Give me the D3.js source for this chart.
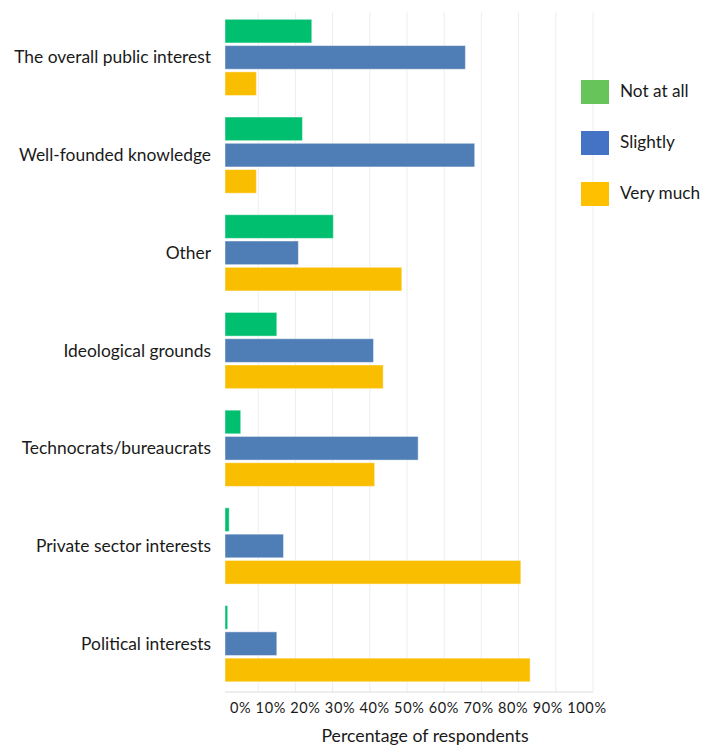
<!DOCTYPE html>
<html>
<head>
<meta charset="utf-8">
<script src="https://cdn.jsdelivr.net/npm/d3@7"></script>
<style>
  html, body { margin: 0; padding: 0; background: #fff; }
  svg { display: block; font-family: Lato, "Open Sans", sans-serif; }
</style>
</head>
<body>
<svg id="chart" width="702" height="747"></svg>
<script>
// Reasons influencing decisions, share of respondents per answer
const categories = [
  "The overall public interest",
  "Well-founded knowledge",
  "Other",
  "Ideological grounds",
  "Technocrats/bureaucrats",
  "Private sector interests",
  "Political interests"
];
const seriesNames = ["Not at all", "Slightly", "Very much"];
const notAtAll  = [24.4, 21.9, 30.2, 15.0,  5.3,  2.2,  1.8];
const slightly  = [65.7, 68.2, 20.8, 41.0, 53.0, 16.8, 15.0];
const veryMuch  = [ 9.5,  9.5, 48.6, 43.6, 41.3, 80.6, 83.1];
const tickValues = [0, 10, 20, 30, 40, 50, 60, 70, 80, 90, 100];
const tickLabels = tickValues.map(v => v + "%");
const axisTitle = "Percentage of respondents";

const barColors    = ["#00BF6F", "#4F7DB5", "#F9BE00"];
const legendColors = ["#66C45A", "#4472C4", "#FFC000"];

const seriesValues = [notAtAll, slightly, veryMuch];
const rows = categories.map((c, i) => ({
  category: c,
  values: seriesNames.map((s, j) => ({ series: s, idx: j, value: seriesValues[j][i] }))
}));

const svg = d3.select("#chart");

const plot = { left: 225, right: 593, top: 12.5, bottom: 692 };

// value scale: gridlines every 10% up to the right border
const x = d3.scaleLinear().domain([0, 100]).range([221, plot.right]);

const y0 = d3.scaleBand()
  .domain(categories)
  .range([plot.top, plot.bottom])
  .paddingInner(0.22)
  .paddingOuter(0.087)
  .align(0.4);

const y1 = d3.scaleBand()
  .domain(seriesNames)
  .range([0, y0.bandwidth()])
  .paddingInner(0.1);

// gridlines
svg.append("g")
  .selectAll("line")
  .data(tickValues.filter(v => x(v) > plot.left))
  .join("line")
  .attr("x1", d => x(d)).attr("x2", d => x(d))
  .attr("y1", plot.top).attr("y2", plot.bottom)
  .attr("stroke", "#EDEDED")
  .attr("stroke-width", 1);

// bottom axis line
svg.append("line")
  .attr("x1", plot.left).attr("x2", plot.right)
  .attr("y1", plot.bottom).attr("y2", plot.bottom)
  .attr("stroke", "#DCDCDC")
  .attr("stroke-width", 1);

// bars
const groups = svg.append("g")
  .selectAll("g")
  .data(rows)
  .join("g")
  .attr("transform", d => `translate(0,${y0(d.category)})`);

groups.selectAll("rect")
  .data(d => d.values)
  .join("rect")
  .attr("x", plot.left)
  .attr("y", d => y1(d.series))
  .attr("width", d => Math.max(0, x(d.value) - plot.left))
  .attr("height", y1.bandwidth())
  .attr("fill", d => barColors[d.idx])
  .attr("stroke", "#ffffff")
  .attr("stroke-opacity", 0.45)
  .attr("stroke-width", 1);

// category labels
svg.append("g")
  .selectAll("text")
  .data(categories)
  .join("text")
  .attr("x", 211)
  .attr("y", d => y0(d) + y0.bandwidth() / 2)
  .attr("dy", "0.35em")
  .attr("text-anchor", "end")
  .attr("font-size", 17.4)
  .attr("fill", "#1a1a1a")
  .text(d => d);

// tick labels, set as one evenly spaced run
const tickText = svg.append("text")
  .attr("x", 230)
  .attr("y", 713)
  .attr("font-size", 14.5)
  .attr("fill", "#1a1a1a")
  .attr("textLength", 376)
  .attr("lengthAdjust", "spacing");
tickText.selectAll("tspan")
  .data(tickLabels)
  .join("tspan")
  .text((d, i) => (i ? " " : "") + d);

// axis title
svg.append("text")
  .attr("x", 425)
  .attr("y", 742)
  .attr("text-anchor", "middle")
  .attr("font-size", 17.7)
  .attr("fill", "#1a1a1a")
  .text(axisTitle);

// legend
const legend = svg.append("g")
  .selectAll("g")
  .data(seriesNames)
  .join("g")
  .attr("transform", (d, i) => `translate(581,${80 + i * 51})`);
legend.append("rect")
  .attr("width", 28).attr("height", 24)
  .attr("fill", (d, i) => legendColors[i]);
legend.append("text")
  .attr("x", 39).attr("y", 12)
  .attr("dy", "0.28em")
  .attr("font-size", 17.2)
  .attr("fill", "#1a1a1a")
  .text(d => d);
</script>
</body>
</html>
